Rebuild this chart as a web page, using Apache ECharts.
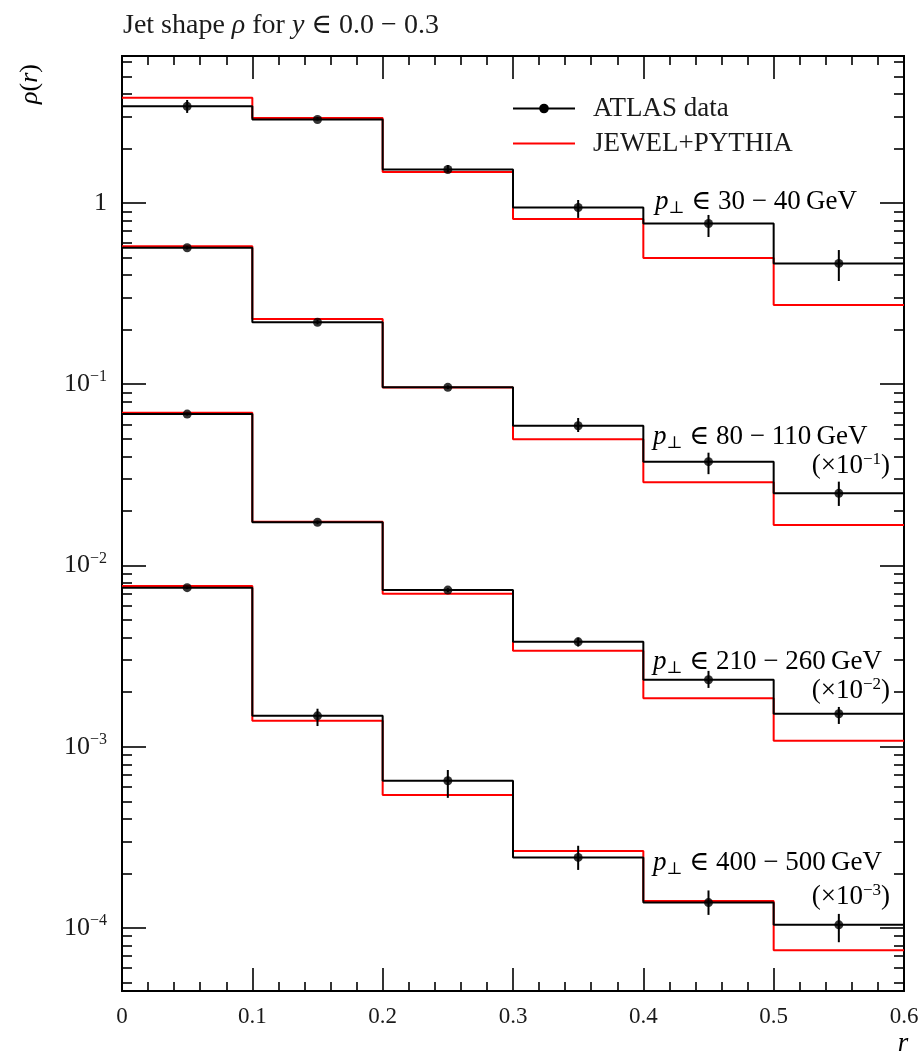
<!DOCTYPE html>
<html>
<head>
<meta charset="utf-8">
<title>Jet shape</title>
<script src="https://cdn.jsdelivr.net/npm/echarts@6.0.0/dist/echarts.min.js"></script>
<style>
  html, body { margin: 0; padding: 0; background: #fff; }
  #main { width: 922px; height: 1055px; }
</style>
</head>
<body>
<div id="main"></div>
<script>
var rEdges = [0, 0.1, 0.2, 0.3, 0.4, 0.5, 0.6];
var rCenters = [0.05, 0.15, 0.25, 0.35, 0.45, 0.55];

// values as plotted (already multiplied by 10^-1, 10^-2, 10^-3)
var atlas30 = [3.415, 2.89, 1.53, 0.944, 0.771, 0.464];
var atlasLo30 = [3.14, 2.85, 1.48, 0.827, 0.649, 0.371];
var atlasHi30 = [3.70, 2.98, 1.62, 1.039, 0.859, 0.550];
var jewel30 = [3.811, 2.944, 1.483, 0.816, 0.497, 0.274];

var atlas80 = [0.566, 0.2196, 0.0961, 0.0590, 0.0374, 0.0250];
var atlasLo80 = [0.555, 0.214, 0.094, 0.0545, 0.0319, 0.0213];
var atlasHi80 = [0.578, 0.226, 0.0985, 0.0651, 0.0419, 0.0290];
var jewel80 = [0.577, 0.2291, 0.0958, 0.0497, 0.0288, 0.0167];

var atlas210 = [0.0684, 0.0173, 0.00731, 0.00379, 0.00234, 0.00152];
var atlasLo210 = [0.0672, 0.0169, 0.00712, 0.00357, 0.00211, 0.001335];
var atlasHi210 = [0.0697, 0.0177, 0.00750, 0.00400, 0.00262, 0.001657];
var jewel210 = [0.0697, 0.0174, 0.00697, 0.00338, 0.00185, 0.00108];

var atlas400 = [0.00754, 0.00148, 0.000649, 0.000245, 0.000138, 0.000104];
var atlasLo400 = [0.00742, 0.00130, 0.000522, 0.000209, 0.000118, 0.0000834];
var atlasHi400 = [0.00766, 0.00162, 0.000744, 0.000284, 0.000161, 0.0001195];
var jewel400 = [0.0077, 0.00139, 0.000542, 0.000266, 0.000141, 0.0000753];

var yDecades = [-4, -3, -2, -1, 0];

var serif = "'Liberation Serif', 'DejaVu Serif', serif";
var ink = '#1a1a1a';
var L = Math.log10;

var yMin = -4.348, yMax = 0.811;
var yMinor = [];
for (var n = -5; n <= 0; n++) {
  for (var k = 2; k <= 9; k++) {
    var t = n + L(k);
    if (t > yMin && t < yMax) yMinor.push(t);
  }
}

function rich(size) {
  var small = Math.round(size * 0.62);
  return {
    n: { fontFamily: serif, fontSize: size, fontWeight: 'normal', color: ink, lineHeight: 30 },
    i: { fontFamily: serif, fontSize: size, fontWeight: 'normal', color: ink, fontStyle: 'italic', lineHeight: 30 },
    sub: { fontFamily: serif, fontSize: small, fontWeight: 'normal', color: ink, verticalAlign: 'bottom', lineHeight: 12 },
    sup: { fontFamily: serif, fontSize: small, fontWeight: 'normal', color: ink, verticalAlign: 'top', lineHeight: 12 }
  };
}

function stepData(vals) {
  return rEdges.map(function (e, i) {
    return [e, L(vals[Math.min(i, vals.length - 1)])];
  });
}
function pointData(vals) {
  return rCenters.map(function (c, i) { return [c, L(vals[i])]; });
}
function errData(lo, hi) {
  return rCenters.map(function (c, i) { return [c, L(lo[i]), L(hi[i])]; });
}

function renderErr(params, api) {
  var x = api.value(0);
  var p1 = api.coord([x, api.value(1)]);
  var p2 = api.coord([x, api.value(2)]);
  return {
    type: 'line',
    shape: { x1: p1[0], y1: p1[1], x2: p2[0], y2: p2[1] },
    style: { stroke: '#000', lineWidth: 2 }
  };
}

var sets = [
  [atlas30, atlasLo30, atlasHi30, jewel30],
  [atlas80, atlasLo80, atlasHi80, jewel80],
  [atlas210, atlasLo210, atlasHi210, jewel210],
  [atlas400, atlasLo400, atlasHi400, jewel400]
];

var series = [];
sets.forEach(function (s) {
  series.push({
    name: 'JEWEL+PYTHIA', type: 'line', step: 'end', data: stepData(s[3]),
    symbol: 'none', silent: true, z: 2,
    lineStyle: { color: '#ff0000', width: 2 }, itemStyle: { color: '#ff0000' }
  });
});
sets.forEach(function (s) {
  series.push({
    name: 'ATLAS data', type: 'line', step: 'end', data: stepData(s[0]),
    symbol: 'circle', symbolSize: 9, showSymbol: false, silent: true, z: 3,
    lineStyle: { color: '#000', width: 2 }, itemStyle: { color: '#000' }
  });
  series.push({
    name: 'err', type: 'custom', renderItem: renderErr, data: errData(s[1], s[2]),
    encode: { x: 0, y: [1, 2] }, silent: true, z: 4
  });
  series.push({
    name: 'pts', type: 'scatter', data: pointData(s[0]), symbol: 'circle',
    symbolSize: 9, silent: true, z: 5, itemStyle: { color: '#000' }
  });
});

function xAxisDef(pos, labels) {
  return {
    type: 'value', position: pos, min: 0, max: 0.6, interval: 0.1,
    axisLine: { show: true, onZero: false, lineStyle: { color: '#000', width: 2 } },
    axisTick: { show: true, inside: true, length: 23, lineStyle: { color: '#000', width: 1.6 } },
    minorTick: { show: true, splitNumber: 5, length: 9, lineStyle: { color: '#000', width: 1.6 } },
    axisLabel: { show: labels, margin: 14, fontFamily: serif, fontSize: 23, color: ink },
    splitLine: { show: false }, minorSplitLine: { show: false }
  };
}

function yAxisDef(pos, values, len, labels) {
  return {
    type: 'value', position: pos, min: yMin, max: yMax,
    axisLine: { show: true, onZero: false, lineStyle: { color: '#000', width: 2 } },
    axisTick: { show: true, inside: true, length: len, customValues: values, lineStyle: { color: '#000', width: 1.6 } },
    axisLabel: {
      show: labels, customValues: yDecades, margin: 15,
      formatter: function (v) {
        var e = Math.round(v);
        if (e === 0) return '{n|1}';
        return '{n|10}{sup|\u2212' + (-e) + '}';
      },
      rich: rich(26)
    },
    splitLine: { show: false }
  };
}

function label(x, y, text, align) {
  return {
    type: 'text', x: x, y: y,
    style: { text: text, rich: rich(27), align: align || 'left', verticalAlign: 'middle' }
  };
}

var myChart = echarts.init(document.getElementById('main'));
var option = {
  animation: false,
  backgroundColor: '#fff',
  title: {
    left: 118, top: 6,
    text: '{n|Jet shape }{i|\u03c1}{n| for }{i|y}{n| \u2208 0.0 \u2212 0.3}',
    textStyle: { fontWeight: 'normal', rich: rich(28) }
  },
  grid: { left: 122, right: 18, top: 56, bottom: 64, containLabel: false },
  legend: {
    orient: 'vertical', left: 507, top: 90, itemWidth: 62, itemHeight: 12, itemGap: 8,
    selectedMode: false,
    data: [
      { name: 'ATLAS data' },
      { name: 'JEWEL+PYTHIA', itemStyle: { opacity: 0 } }
    ],
    formatter: function (name) { return '{a|' + name + '}'; },
    textStyle: {
      rich: { a: { fontFamily: serif, fontSize: 27, color: ink, lineHeight: 28, padding: [0, 0, 0, 13] } }
    }
  },
  xAxis: [xAxisDef('bottom', true), xAxisDef('top', false)],
  yAxis: [
    yAxisDef('left', yDecades, 24, true),
    yAxisDef('left', yMinor, 10, false),
    yAxisDef('right', yDecades, 24, false),
    yAxisDef('right', yMinor, 10, false)
  ],
  graphic: [
    {
      type: 'text', x: 30, y: 84, rotation: Math.PI / 2,
      style: { text: '{i|\u03c1}{n|(}{i|r}{n|)}', rich: rich(26), align: 'center', verticalAlign: 'middle' }
    },
    label(903, 1044, '{i|r}', 'center'),
    label(655, 202, '{i|p}{sub|\u22a5}{n| \u2208 30 \u2212 40\u2009GeV}'),
    label(653, 437, '{i|p}{sub|\u22a5}{n| \u2208 80 \u2212 110\u2009GeV}'),
    label(890, 466, '{n|(\u00d710}{sup|\u22121}{n|)}', 'right'),
    label(653, 662, '{i|p}{sub|\u22a5}{n| \u2208 210 \u2212 260\u2009GeV}'),
    label(890, 691, '{n|(\u00d710}{sup|\u22122}{n|)}', 'right'),
    label(653, 863, '{i|p}{sub|\u22a5}{n| \u2208 400 \u2212 500\u2009GeV}'),
    label(890, 897, '{n|(\u00d710}{sup|\u22123}{n|)}', 'right')
  ],
  series: series
};
myChart.setOption(option);
</script>
</body>
</html>
